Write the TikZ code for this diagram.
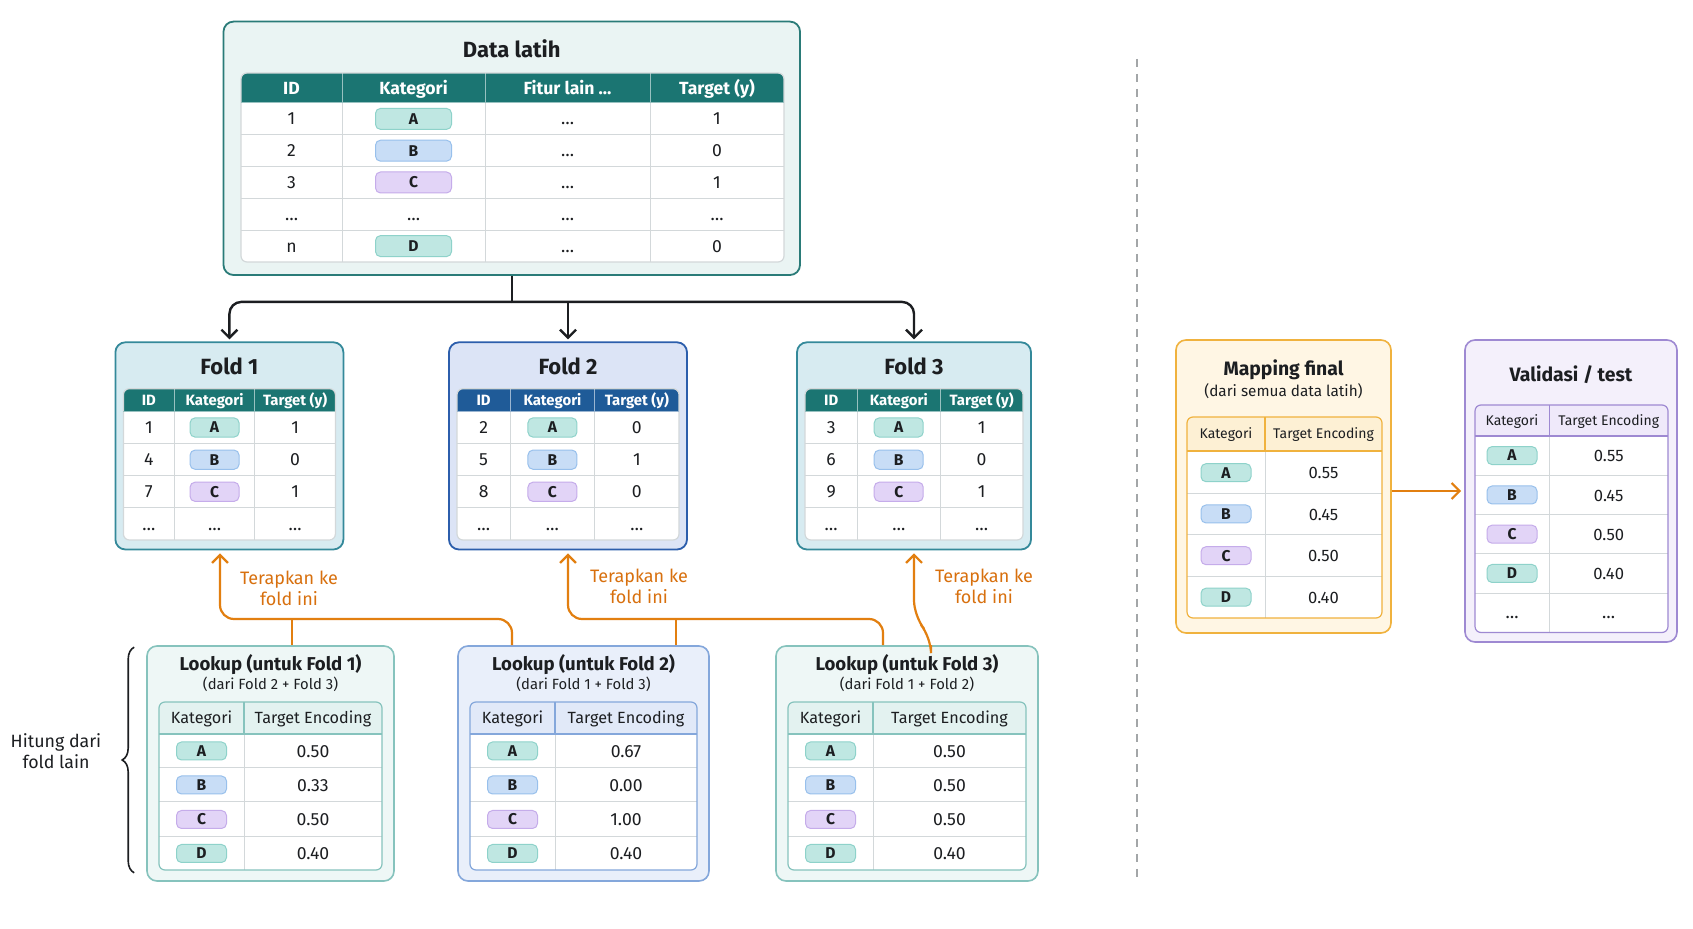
\documentclass[tikz,border=0pt]{standalone}
\usepackage{fontspec}
\setmainfont{Fira Sans}
\usetikzlibrary{arrows.meta,positioning,calc,decorations.pathreplacing}

\definecolor{ink}{HTML}{1C1E21}
\definecolor{tealhd}{HTML}{1B7572}
\definecolor{bluehd}{HTML}{1F5B98}
\definecolor{gridgray}{HTML}{D3D8DA}
\definecolor{datafill}{HTML}{EAF4F3}
\definecolor{dataedge}{HTML}{2A7B78}
\definecolor{foldfill}{HTML}{D7EBF1}
\definecolor{foldedge}{HTML}{34899A}
\definecolor{fold2fill}{HTML}{DCE4F6}
\definecolor{fold2edge}{HTML}{2C5EAC}
\definecolor{lookfill}{HTML}{EEF7F6}
\definecolor{lookedge}{HTML}{86C3BD}
\definecolor{lookhd}{HTML}{E3F2F0}
\definecolor{look2fill}{HTML}{E9EFFA}
\definecolor{look2edge}{HTML}{84A7DB}
\definecolor{look2hd}{HTML}{E1E9F8}
\definecolor{mapfill}{HTML}{FFF6E4}
\definecolor{mapedge}{HTML}{F0B23E}
\definecolor{maphd}{HTML}{FDF0D4}
\definecolor{valfill}{HTML}{F4F0FB}
\definecolor{valedge}{HTML}{9E89D2}
\definecolor{valhd}{HTML}{EFE9FA}
\definecolor{chipA}{HTML}{BFE7E2}
\definecolor{chipAdk}{HTML}{8ED2CA}
\definecolor{chipB}{HTML}{C8DDF6}
\definecolor{chipBdk}{HTML}{98C0EC}
\definecolor{chipC}{HTML}{E2D4F7}
\definecolor{chipCdk}{HTML}{C5ACEA}
\colorlet{chipD}{chipA}
\colorlet{chipDdk}{chipAdk}
\definecolor{flow}{HTML}{E27F10}
\definecolor{flowtext}{HTML}{D8700E}
\definecolor{divider}{HTML}{A3A6A8}

\tikzset{
  panel/.style={draw, rounded corners=5pt, line width=0.9pt},
  ptitle/.style={font=\bfseries\fontsize{11}{13}\selectfont, text=ink},
  mtitle/.style={font=\bfseries\fontsize{9.7}{11.5}\selectfont, text=ink},
  ltitle/.style={font=\bfseries\fontsize{9.3}{11}\selectfont, text=ink},
  lsub/.style={font=\fontsize{7.4}{9}\selectfont, text=ink},
  hcell/.style={font=\bfseries\fontsize{8.8}{10}\selectfont, text=white, inner sep=0pt, text height=6.1pt, text depth=0pt},
  hcellsm/.style={font=\bfseries\fontsize{7.45}{9}\selectfont, text=white, inner sep=0pt, text height=5.1pt, text depth=0pt},
  lhcell/.style={font=\fontsize{8.1}{9.5}\selectfont, text=ink, inner sep=0pt, text height=5.6pt, text depth=0pt},
  mhcell/.style={font=\fontsize{7}{8.5}\selectfont, text=ink, inner sep=0pt, text height=4.8pt, text depth=0pt},
  cell/.style={font=\fontsize{8.8}{10}\selectfont, text=ink, inner sep=0pt, text height=6.1pt, text depth=0pt},
  chipbase/.style={rounded corners=2.5pt, inner sep=0pt, line width=0.5pt, minimum width=25pt,
    minimum height=9pt, font=\bfseries\fontsize{7.8}{9}\selectfont, text=ink},
  chip/.style={chipbase, fill=chip#1, draw=chip#1dk},
  gridline/.style={draw=gridgray, line width=0.5pt},
  hdfill/.style={fill=tealhd},
  hdline/.style={draw=white!55!tealhd, line width=0.5pt},
  tabedge/.style={draw=gridgray, line width=0.6pt},
  bline/.style={draw=ink, line width=1.2pt},
  barrow/.style={bline, rounded corners=6pt, -{Straight Barb[length=4pt,width=8pt]}, shorten >=1pt},
  oline/.style={draw=flow, line width=1.1pt},
  oarrow/.style={oline, rounded corners=7pt, -{Straight Barb[length=4pt,width=8pt]}, shorten >=1.5pt},
  note/.style={font=\fontsize{9}{10.5}\selectfont, text=flowtext, align=center},
}

% table frame: x0, x1, top, header bottom, bottom, column lines, row lines
\newcommand{\tablegrid}[7]{%
  \begin{scope}
    \clip[rounded corners=3pt] (#1,#3) rectangle (#2,#5);
    \fill[white] (#1,#3) rectangle (#2,#5);
    \fill[hdfill] (#1,#3) rectangle (#2,#4);
    \foreach \yy in {#7} \draw[gridline] (#1,\yy) -- (#2,\yy);
    \foreach \xx in {#6} {
      \draw[gridline] (\xx,#4) -- (\xx,#5);
      \draw[hdline] (\xx,#3) -- (\xx,#4);
    }
  \end{scope}
  \draw[tabedge, rounded corners=3pt] (#1,#3) rectangle (#2,#5);
  \draw[hdline] (#1,#4) -- (#2,#4);
}

\begin{document}
\begin{tikzpicture}[x=0.5pt, y=-0.5pt]
  \path[use as bounding box, fill=white] (0,0) rectangle (1693,929);

  % training data
  \node[panel, fill=datafill, draw=dataedge, minimum width=288.25pt, minimum height=126.7pt] (data) at (511.75,148.3) {};
  \node[ptitle] (data-t) at ($(data.north)+(0,28)$) {Data latih};
  \tablegrid{241}{784}{73}{103}{262}{342,485,650}{134.8,166.6,198.4,230.2}
  \foreach \t/\x [count=\c] in {ID/291.5, Kategori/413.5, Fitur lain …/567.5, Target (y)/717}
    \node[hcell] (data-h\c) at (\x,88) {\t};
  \foreach \id/\k/\v/\y [count=\r] in {1/A/1/118.9, 2/B/0/150.7, 3/C/1/182.5, n/D/0/246.1} {
    \node[cell] (data-i\r) at (291.5,\y) {\id};
    \node[chip=\k, minimum width=38pt, minimum height=10.5pt] (data-k\r) at (413.5,\y) {\k};
    \node[cell] (data-f\r) at (567.5,\y) {…};
    \node[cell] (data-v\r) at (717,\y) {\v};
  }
  \foreach \x [count=\c] in {291.5,413.5,567.5,717}
    \node[cell] (data-d\c) at (\x,214.3) {…};

  % folds
  \foreach \n/\cx/\w/\pf/\pe/\hd/\ta/\tb/\tc in
    {1/229.4/228/foldfill/foldedge/tealhd/1/0/1,
     2/568/238/fold2fill/fold2edge/bluehd/0/1/0,
     3/914/234/foldfill/foldedge/tealhd/1/0/1} {
    \node[panel, fill=\pf, draw=\pe, minimum width=\w*0.5pt, minimum height=103.6pt] (fold\n) at (\cx,445.9) {};
    \node[ptitle] (fold\n-t) at ($(fold\n.north)+(0,25)$) {Fold \n};
    \pgfmathsetmacro\xa{\cx-\w/2+8}
    \pgfmathsetmacro\xb{\cx+\w/2-8}
    \pgfmathsetmacro\ca{\xa+0.24*(\w-16)}
    \pgfmathsetmacro\cb{\xa+0.62*(\w-16)}
    \begin{scope}[hdfill/.style={fill=\hd}, hdline/.style={draw=white!55!\hd, line width=0.5pt}]
      \tablegrid{\xa}{\xb}{388.7}{411.4}{540}{\ca,\cb}{443.6,475.7,507.9}
    \end{scope}
    \pgfmathsetmacro\ma{(\xa+\ca)/2}
    \pgfmathsetmacro\mb{(\ca+\cb)/2}
    \pgfmathsetmacro\mc{(\cb+\xb)/2}
    \node[hcellsm] (fold\n-h1) at (\ma,400) {ID};
    \node[hcellsm] (fold\n-h2) at (\mb,400) {Kategori};
    \node[hcellsm] (fold\n-h3) at (\mc,400) {Target (y)};
    \pgfmathtruncatemacro\ib{\n+3}
    \pgfmathtruncatemacro\ic{\n+6}
    \foreach \id/\k/\v/\y [count=\r] in {\n/A/\ta/427.5, \ib/B/\tb/459.7, \ic/C/\tc/491.8} {
      \node[cell] (fold\n-i\r) at (\ma,\y) {\id};
      \node[chip=\k, minimum width=24.5pt, minimum height=9.6pt] (fold\n-k\r) at (\mb,\y) {\k};
      \node[cell] (fold\n-v\r) at (\mc,\y) {\v};
    }
    \foreach \x [count=\c] in {\ma,\mb,\mc}
      \node[cell] (fold\n-d\c) at (\x,524) {…};
  }

  % lookups from the other folds
  \foreach \n/\cx/\w/\pf/\pe/\hf/\src/\va/\vb/\vc/\vd in
    {1/270.5/247/lookfill/lookedge/lookhd/Fold 2 + Fold 3/0.50/0.33/0.50/0.40,
     2/583.5/251/look2fill/look2edge/look2hd/Fold 1 + Fold 3/0.67/0.00/1.00/0.40,
     3/907/262/lookfill/lookedge/lookhd/Fold 1 + Fold 2/0.50/0.50/0.50/0.40} {
    \node[panel, fill=\pf, draw=\pe, line width=0.8pt, minimum width=\w*0.5pt, minimum height=117.5pt] (lookup\n) at (\cx,763.5) {};
    \node[ltitle] (lookup\n-t) at ($(lookup\n.north)+(0,19)$) {Lookup (untuk Fold \n)};
    \node[lsub] (lookup\n-s) at ($(lookup\n.north)+(0,39)$) {(dari \src)};
    \pgfmathsetmacro\xa{\cx-\w/2+12}
    \pgfmathsetmacro\xb{\cx+\w/2-12}
    \pgfmathsetmacro\ca{\xa+85}
    \begin{scope}[hdfill/.style={fill=\hf}, hdline/.style={draw=\pe, line width=0.6pt},
        tabedge/.style={draw=\pe, line width=0.6pt}]
      \tablegrid{\xa}{\xb}{702}{734}{870}{\ca}{768,802,837}
    \end{scope}
    \pgfmathsetmacro\ma{(\xa+\ca)/2}
    \pgfmathsetmacro\mb{(\ca+\xb)/2}
    \node[lhcell] (lookup\n-h1) at (\ma,718) {Kategori};
    \node[lhcell] (lookup\n-h2) at (\mb,718) {Target Encoding};
    \foreach \k/\v/\y [count=\r] in {A/\va/751, B/\vb/785, C/\vc/819.5, D/\vd/853.5} {
      \node[chip=\k] (lookup\n-k\r) at (\ma,\y) {\k};
      \node[cell] (lookup\n-v\r) at (\mb,\y) {\v};
    }
  }

  % final mapping
  \node[panel, fill=mapfill, draw=mapedge, line width=0.8pt, minimum width=107.5pt, minimum height=146.5pt] (mapping) at (1283.5,486.5) {};
  \node[mtitle] (mapping-t) at ($(mapping.north)+(0,31)$) {Mapping final};
  \node[lsub, font=\fontsize{7.65}{9}\selectfont] (mapping-s) at ($(mapping.north)+(0,52)$) {(dari semua data latih)};
  \begin{scope}[hdfill/.style={fill=maphd}, hdline/.style={draw=mapedge, line width=0.6pt},
      tabedge/.style={draw=mapedge, line width=0.6pt}]
    \tablegrid{1187}{1382}{417}{451}{618}{1265}{493.5,535,576.5}
  \end{scope}
  \node[mhcell] (mapping-h1) at (1226,434) {Kategori};
  \node[mhcell] (mapping-h2) at (1323.5,434) {Target Encoding};
  \foreach \k/\v/\y [count=\r] in {A/0.55/472.7, B/0.45/514, C/0.50/555.7, D/0.40/597.2} {
    \node[chip=\k] (mapping-k\r) at (1226,\y) {\k};
    \node[cell, font=\fontsize{8.3}{9.5}\selectfont] (mapping-v\r) at (1323.5,\y) {\v};
  }

  % validation / test
  \node[panel, fill=valfill, draw=valedge, line width=0.8pt, minimum width=106pt, minimum height=151pt] (valid) at (1571,491) {};
  \node[mtitle] (valid-t) at ($(valid.north)+(0,35)$) {Validasi / test};
  \begin{scope}[hdfill/.style={fill=valhd}, hdline/.style={draw=valedge, line width=0.6pt},
      tabedge/.style={draw=valedge, line width=0.6pt}]
    \tablegrid{1475}{1668}{405}{436}{632.5}{1549.5}{475.3,514.6,553.9,593.2}
  \end{scope}
  \node[mhcell] (valid-h1) at (1512,420.5) {Kategori};
  \node[mhcell] (valid-h2) at (1608.7,420.5) {Target Encoding};
  \foreach \k/\v/\y [count=\r] in {A/0.55/455.6, B/0.45/495, C/0.50/534.2, D/0.40/573.5} {
    \node[chip=\k] (valid-k\r) at (1512,\y) {\k};
    \node[cell, font=\fontsize{8.3}{9.5}\selectfont] (valid-v\r) at (1608.7,\y) {\v};
  }
  \node[cell] (valid-d1) at (1512,612.8) {…};
  \node[cell] (valid-d2) at (1608.7,612.8) {…};

  % split into folds
  \coordinate (split) at ($(data.south)+(0,26)$);
  \draw[bline] (data.south) -- (split);
  \draw[barrow] (split) -| (fold1.north);
  \draw[barrow] (split) -| (fold3.north);
  \draw[barrow] (split -| fold2.north) -- (fold2.north);

  % apply lookups back to folds
  \coordinate (bus) at (0,619);
  \coordinate (l1a) at ($(lookup1.north)+(21.5,0)$);
  \coordinate (l2a) at ($(lookup2.north)+(-71.5,0)$);
  \coordinate (l2b) at ($(lookup2.north)+(92.5,0)$);
  \coordinate (l3a) at ($(lookup3.north)+(-24,0)$);
  \coordinate (l3b) at ($(lookup3.north)+(24,0)$);
  \coordinate (f1in) at ($(fold1.south)+(-9.4,0)$);
  \draw[oarrow] (l2a) -- (l2a |- bus) -| (f1in);
  \draw[oline] (l1a) -- (l1a |- bus);
  \draw[oarrow] (l3a) -- (l3a |- bus) -| (fold2.south);
  \draw[oline] (l2b) -- (l2b |- bus);
  \draw[oarrow, rounded corners=8pt] (l3b) -- ++(0,-8) -- ($(fold3.south)+(0,66)$) -- (fold3.south);
  \node[note] (apply1) at (289,588.5) {Terapkan ke\\fold ini};
  \node[note] (apply2) at (639,586) {Terapkan ke\\fold ini};
  \node[note] (apply3) at (984,586) {Terapkan ke\\fold ini};

  % brace for the lookups
  \draw[decorate, decoration={brace, amplitude=6pt}, draw=ink, line width=0.8pt]
    ($(lookup1.south west)+(-12,-9)$) -- ($(lookup1.north west)+(-12,2)$);
  \node[font=\fontsize{8.9}{10.5}\selectfont, text=ink, align=center] (hitung) at (56,751.5) {Hitung dari\\fold lain};

  % final mapping to test
  \draw[oarrow] (mapping.east |- valid.west) -- (valid.west);

  % divider
  \draw[divider, line width=0.6pt, dash pattern=on 4pt off 3.5pt] (1137,59) -- (1137,880);
\end{tikzpicture}
\end{document}
